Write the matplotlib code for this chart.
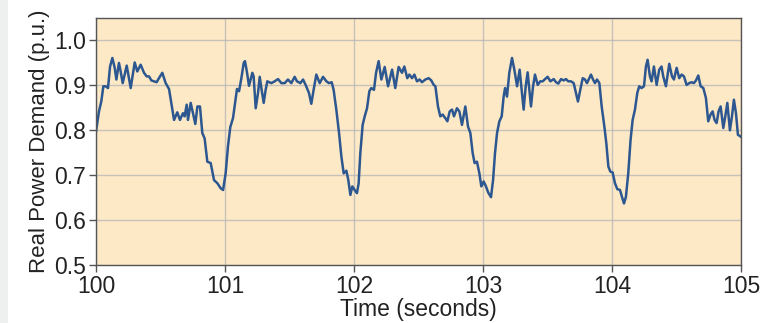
import matplotlib
matplotlib.use('Agg')
import matplotlib.pyplot as plt
from matplotlib.patches import Rectangle

# time (s) and real power demand (p.u.)
time_s = [
    100.000, 100.023, 100.041, 100.057, 100.075, 100.093, 100.109, 100.127, 100.145, 100.158,
    100.178, 100.191, 100.207, 100.225, 100.238, 100.269, 100.300, 100.320, 100.346, 100.372,
    100.393, 100.411, 100.429, 100.450, 100.470, 100.488, 100.514, 100.540, 100.566, 100.592,
    100.605, 100.630, 100.651, 100.674, 100.687, 100.703, 100.713, 100.734, 100.752, 100.770,
    100.786, 100.806, 100.824, 100.842, 100.863, 100.889, 100.915, 100.941, 100.966,
    100.985, 101.005, 101.023, 101.041, 101.062, 101.083, 101.093, 101.109, 101.127, 101.145,
    101.155, 101.171, 101.186, 101.212, 101.222, 101.238, 101.256, 101.269, 101.284, 101.300,
    101.315, 101.328, 101.359, 101.385, 101.411, 101.437, 101.463, 101.488, 101.514, 101.540,
    101.558, 101.584, 101.605, 101.625, 101.651, 101.669, 101.687, 101.708, 101.734, 101.760,
    101.786, 101.806, 101.827, 101.842, 101.863, 101.884, 101.902, 101.920, 101.941, 101.956,
    101.972, 101.987,
    102.005, 102.023, 102.036, 102.049, 102.067, 102.083, 102.101, 102.119, 102.134, 102.155,
    102.171, 102.191, 102.212, 102.238, 102.264, 102.295, 102.320, 102.346, 102.372, 102.390,
    102.413, 102.429, 102.450, 102.468, 102.488, 102.509, 102.527, 102.553, 102.579, 102.599,
    102.618, 102.631, 102.651, 102.669, 102.687, 102.708, 102.724, 102.742, 102.760, 102.775,
    102.798, 102.817, 102.837, 102.863, 102.884, 102.902, 102.920, 102.935, 102.953, 102.972,
    102.987,
    103.005, 103.023, 103.041, 103.062, 103.078, 103.093, 103.109, 103.127, 103.145, 103.160,
    103.171, 103.186, 103.204, 103.225, 103.243, 103.264, 103.284, 103.300, 103.315, 103.331,
    103.346, 103.359, 103.372, 103.388, 103.403, 103.424, 103.444, 103.463, 103.481, 103.501,
    103.522, 103.548, 103.566, 103.584, 103.605, 103.625, 103.643, 103.661, 103.682, 103.703,
    103.721, 103.736, 103.754, 103.773, 103.791, 103.806, 103.824, 103.837, 103.853, 103.868,
    103.884, 103.902, 103.920, 103.941, 103.956, 103.972, 103.987,
    104.005, 104.023, 104.041, 104.062, 104.077, 104.093, 104.108, 104.126, 104.144, 104.160,
    104.178, 104.196, 104.211, 104.229, 104.248, 104.263, 104.276, 104.294, 104.307, 104.325,
    104.346, 104.366, 104.384, 104.397, 104.418, 104.444, 104.465, 104.480, 104.501, 104.521,
    104.540, 104.558, 104.578, 104.599, 104.617, 104.635, 104.651, 104.669, 104.687, 104.708,
    104.728, 104.746, 104.764, 104.780, 104.795, 104.811, 104.826, 104.842, 104.863, 104.878,
    104.894, 104.914, 104.930, 104.945, 104.961, 104.976, 104.997,
]

demand_pu = [
    0.797, 0.842, 0.864, 0.898, 0.898, 0.894, 0.942, 0.961, 0.939, 0.913,
    0.950, 0.931, 0.905, 0.928, 0.944, 0.894, 0.951, 0.931, 0.946, 0.928,
    0.920, 0.920, 0.911, 0.909, 0.907, 0.916, 0.928, 0.905, 0.892, 0.846,
    0.823, 0.840, 0.823, 0.838, 0.831, 0.857, 0.823, 0.861, 0.838, 0.814,
    0.853, 0.853, 0.794, 0.782, 0.730, 0.727, 0.689, 0.682, 0.671,
    0.667, 0.704, 0.764, 0.807, 0.827, 0.872, 0.892, 0.887, 0.916, 0.950,
    0.954, 0.928, 0.899, 0.928, 0.920, 0.849, 0.883, 0.919, 0.890, 0.861,
    0.890, 0.909, 0.905, 0.909, 0.914, 0.905, 0.905, 0.913, 0.905, 0.919,
    0.909, 0.905, 0.913, 0.901, 0.883, 0.859, 0.890, 0.924, 0.905, 0.919,
    0.909, 0.905, 0.907, 0.890, 0.846, 0.794, 0.742, 0.704, 0.710, 0.689,
    0.656, 0.675,
    0.667, 0.660, 0.682, 0.749, 0.812, 0.831, 0.849, 0.887, 0.894, 0.890,
    0.928, 0.954, 0.913, 0.941, 0.898, 0.935, 0.894, 0.941, 0.928, 0.942,
    0.916, 0.924, 0.916, 0.924, 0.909, 0.913, 0.907, 0.913, 0.916, 0.911,
    0.901, 0.898, 0.853, 0.831, 0.835, 0.827, 0.820, 0.842, 0.846, 0.831,
    0.849, 0.842, 0.812, 0.853, 0.808, 0.794, 0.749, 0.727, 0.730, 0.704,
    0.675,
    0.686, 0.675, 0.661, 0.651, 0.689, 0.749, 0.794, 0.820, 0.831, 0.875,
    0.894, 0.875, 0.928, 0.961, 0.935, 0.898, 0.935, 0.890, 0.846, 0.898,
    0.929, 0.890, 0.853, 0.898, 0.924, 0.901, 0.909, 0.909, 0.914, 0.919,
    0.909, 0.914, 0.907, 0.904, 0.914, 0.911, 0.914, 0.909, 0.909, 0.905,
    0.883, 0.864, 0.890, 0.916, 0.913, 0.905, 0.916, 0.924, 0.913, 0.905,
    0.913, 0.905, 0.853, 0.808, 0.771, 0.719, 0.708,
    0.706, 0.682, 0.669, 0.667, 0.652, 0.637, 0.652, 0.704, 0.779, 0.823,
    0.846, 0.883, 0.898, 0.894, 0.898, 0.942, 0.957, 0.920, 0.909, 0.942,
    0.901, 0.935, 0.942, 0.920, 0.898, 0.948, 0.920, 0.913, 0.939, 0.916,
    0.924, 0.920, 0.901, 0.905, 0.907, 0.905, 0.911, 0.922, 0.898, 0.894,
    0.872, 0.820, 0.835, 0.842, 0.823, 0.816, 0.842, 0.853, 0.805, 0.831,
    0.861, 0.800, 0.831, 0.868, 0.838, 0.790, 0.786,
]

x_ticks = [100, 101, 102, 103, 104, 105]
y_ticks = [0.5, 0.6, 0.7, 0.8, 0.9, 1.0]

plt.rcParams['font.family'] = ['Liberation Sans', 'DejaVu Sans']

fig = plt.figure(figsize=(7.74, 3.23), dpi=100)
fig.patches.append(Rectangle((0, 0), 8 / 774, 1, transform=fig.transFigure,
                             facecolor='#eeefef', edgecolor='none', zorder=0))

ax = fig.add_axes([96 / 774, 1 - 265 / 323, 645 / 774, 247 / 323])
ax.set_facecolor('#fee9c6')
ax.plot(time_s, demand_pu, color='#2c5790', linewidth=1.8)

ax.set_xlim(100, 105)
ax.set_ylim(0.5, 1.05)
ax.set_xticks(x_ticks)
ax.set_yticks(y_ticks)
ax.set_yticklabels([f'{v:.1f}' for v in y_ticks])
ax.grid(True, color='#b8b8b8', linewidth=1.0, alpha=0.8)
ax.set_axisbelow(True)

for s in ax.spines.values():
    s.set_color('#555555')
    s.set_linewidth(1.0)
ax.tick_params(axis='both', labelsize=16.5, length=5, width=1,
               colors='#555555', labelcolor='#222222')
ax.tick_params(axis='x', pad=2)
ax.tick_params(axis='y', pad=2)

ax.set_xlabel('Time (seconds)', fontsize=16.5, color='#222222', labelpad=0)
ax.set_ylabel('Real Power Demand (p.u.)', fontsize=16, color='#222222', labelpad=3)

fig.savefig('out.png', dpi=100)
